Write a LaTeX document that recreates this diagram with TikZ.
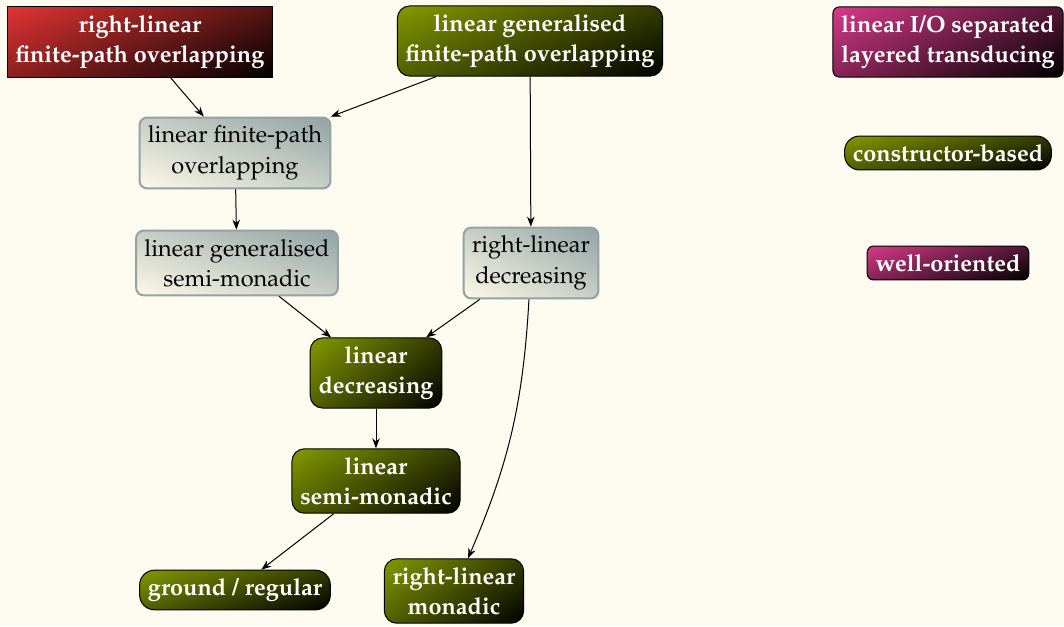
\documentclass[tikz,border=0pt]{standalone}
\usepackage[T1]{fontenc}
\usepackage{mathpazo}
\usepackage{xcolor}
\usetikzlibrary{arrows.meta, positioning, shadings}
\definecolor{paper}{RGB}{253,251,240}
\definecolor{accentred}{RGB}{226,52,52}
\definecolor{accentolive}{RGB}{132,154,0}
\definecolor{accentpink}{RGB}{216,58,138}
\definecolor{slate}{RGB}{146,163,164}
\definecolor{cream}{RGB}{253,249,232}
\newcommand{\boxfont}{\fontsize{9.4}{12.2}\selectfont}

\begin{document}
\begin{tikzpicture}[x=0.4pt, y=-0.4pt, >={Stealth[length=4pt, width=3pt]},
    dark/.style={draw=black, thin, text=white, align=center, font=\boxfont\bfseries,
        upper left=#1, upper right=#1!38!black, lower left=#1!62!black, lower right=black},
    redbox/.style={dark=accentred},
    olivebox/.style={dark=accentolive, rounded corners=5pt},
    pinkbox/.style={dark=accentpink, rounded corners=2.5pt},
    greybox/.style={draw=slate, line width=0.8pt, rounded corners=3pt, align=center, font=\boxfont,
        upper right=slate, upper left=slate!50!cream, lower right=slate!50!cream, lower left=cream}]

    \fill[paper] (0,0) rectangle (1064,626);
    \useasboundingbox (0,0) rectangle (1064,626);

    % top row
    \node[redbox] (rlfpo) at (140,42) {right-linear\\finite-path overlapping};
    \node[olivebox] (lgfpo) at (530,41) {linear generalised\\finite-path overlapping};
    \node[pinkbox] (lio) at (948,42) {linear I/O separated\\layered transducing};

    % legend column
    \node[olivebox, rounded corners=6pt] (cb) at (948,153) {constructor-based};
    \node[pinkbox] (wo) at (948,263) {well-oriented};

    % hierarchy
    \node[greybox] (lfpo) at (235,153) {linear finite-path\\overlapping};
    \node[greybox] (lgsm) at (237,263) {linear generalised\\semi-monadic};
    \node[greybox] (rld) at (531,263) {right-linear\\decreasing};
    \node[olivebox] (ld) at (376,373) {linear\\decreasing};
    \node[olivebox] (lsm) at (376,481) {linear\\semi-monadic};
    \node[olivebox, rounded corners=6pt] (gr) at (235,590) {ground / regular};
    \node[olivebox] (rlm) at (454,591) {right-linear\\monadic};

    \draw[->] (rlfpo) -- (lfpo);
    \draw[->] (lgfpo) -- (lfpo);
    \draw[->] (lgfpo) -- (rld);
    \draw[->] (lfpo) -- (lgsm);
    \draw[->] (lgsm) -- (ld);
    \draw[->] (rld) -- (ld);
    \draw[->] (rld) to[bend left=10] (rlm);
    \draw[->] (ld) -- (lsm);
    \draw[->] (lsm) -- (gr);
\end{tikzpicture}
\end{document}
